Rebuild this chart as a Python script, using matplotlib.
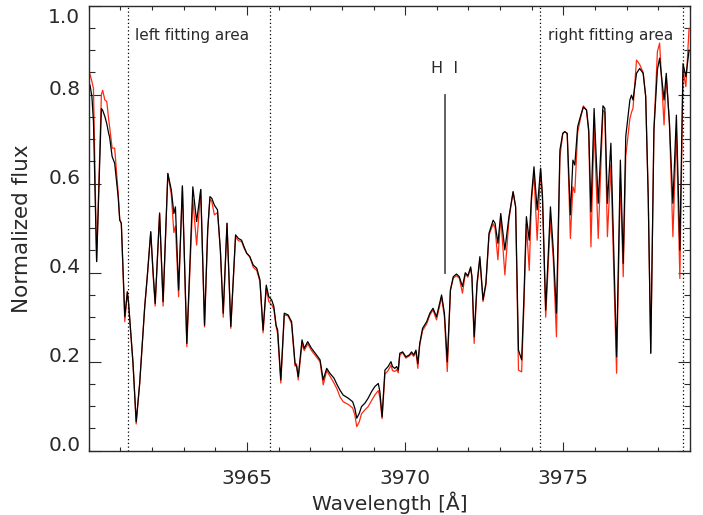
import matplotlib
matplotlib.use("Agg")
import matplotlib.pyplot as plt
from matplotlib.ticker import FixedLocator, MultipleLocator
from matplotlib.transforms import ScaledTranslation

# wavelength grid [A], observed (black) and model (red) normalized flux
wave = [
    3960.00, 3960.04, 3960.10, 3960.15, 3960.25, 3960.40, 3960.44, 3960.51, 3960.57, 3960.63,
    3960.66, 3960.74, 3960.82, 3960.93, 3960.98, 3961.03, 3961.14, 3961.22, 3961.26, 3961.40,
    3961.50, 3961.61, 3961.77, 3961.85, 3961.96, 3962.03, 3962.10, 3962.24, 3962.35, 3962.50,
    3962.61, 3962.69, 3962.74, 3962.84, 3962.96, 3963.10, 3963.29, 3963.41, 3963.54, 3963.66,
    3963.76, 3963.83, 3963.89, 3963.97, 3964.07, 3964.16, 3964.25, 3964.37, 3964.49, 3964.64,
    3964.73, 3964.83, 3964.91, 3964.99, 3965.09, 3965.20, 3965.31, 3965.41, 3965.51, 3965.61,
    3965.69, 3965.78, 3965.85, 3965.92, 3965.97, 3966.07, 3966.18, 3966.30, 3966.41, 3966.52,
    3966.57, 3966.62, 3966.74, 3966.81, 3966.92, 3967.04, 3967.20, 3967.31, 3967.41, 3967.52,
    3967.62, 3967.75, 3967.85, 3967.94, 3968.04, 3968.20, 3968.34, 3968.41, 3968.47, 3968.55,
    3968.62, 3968.73, 3968.83, 3968.94, 3969.04, 3969.15, 3969.20, 3969.27, 3969.36, 3969.46,
    3969.55, 3969.60, 3969.67, 3969.73, 3969.78, 3969.83, 3969.92, 3970.02, 3970.13, 3970.20,
    3970.27, 3970.34, 3970.40, 3970.46, 3970.55, 3970.68, 3970.78, 3970.88, 3970.99, 3971.15,
    3971.24, 3971.33, 3971.43, 3971.52, 3971.62, 3971.71, 3971.81, 3971.90, 3971.98, 3972.07,
    3972.11, 3972.18, 3972.27, 3972.36, 3972.46, 3972.55, 3972.65, 3972.78, 3972.84, 3972.93,
    3973.02, 3973.15, 3973.28, 3973.41, 3973.49, 3973.58, 3973.68, 3973.75, 3973.83, 3973.92,
    3973.99, 3974.07, 3974.17, 3974.28, 3974.34, 3974.44, 3974.59, 3974.68, 3974.78, 3974.89,
    3974.98, 3975.04, 3975.12, 3975.22, 3975.30, 3975.36, 3975.45, 3975.55, 3975.63, 3975.73,
    3975.80, 3975.87, 3975.97, 3976.10, 3976.25, 3976.31, 3976.39, 3976.50, 3976.68, 3976.80,
    3976.89, 3976.97, 3977.10, 3977.15, 3977.20, 3977.31, 3977.41, 3977.52, 3977.60, 3977.68,
    3977.76, 3977.86, 3977.97, 3978.04, 3978.18, 3978.25, 3978.35, 3978.46, 3978.57, 3978.68,
    3978.78, 3978.87, 3978.97,
]
flux_obs = [
    0.803, 0.822, 0.796, 0.740, 0.425, 0.769, 0.765, 0.751, 0.735, 0.713,
    0.705, 0.661, 0.646, 0.571, 0.518, 0.511, 0.301, 0.357, 0.331, 0.196,
    0.065, 0.151, 0.324, 0.391, 0.492, 0.406, 0.331, 0.533, 0.335, 0.623,
    0.586, 0.533, 0.548, 0.361, 0.595, 0.241, 0.593, 0.515, 0.587, 0.282,
    0.496, 0.571, 0.567, 0.552, 0.541, 0.451, 0.309, 0.511, 0.279, 0.485,
    0.477, 0.473, 0.458, 0.444, 0.436, 0.417, 0.410, 0.384, 0.271, 0.372,
    0.346, 0.339, 0.324, 0.282, 0.271, 0.159, 0.309, 0.305, 0.290, 0.196,
    0.189, 0.166, 0.249, 0.230, 0.245, 0.230, 0.215, 0.204, 0.159, 0.185,
    0.174, 0.163, 0.148, 0.136, 0.125, 0.118, 0.110, 0.095, 0.073, 0.084,
    0.099, 0.107, 0.118, 0.133, 0.144, 0.151, 0.133, 0.076, 0.181, 0.189,
    0.200, 0.189, 0.185, 0.189, 0.181, 0.219, 0.222, 0.211, 0.215, 0.222,
    0.215, 0.226, 0.196, 0.241, 0.275, 0.290, 0.309, 0.320, 0.301, 0.350,
    0.309, 0.200, 0.361, 0.391, 0.397, 0.391, 0.369, 0.400, 0.393, 0.413,
    0.391, 0.256, 0.376, 0.436, 0.339, 0.376, 0.489, 0.518, 0.511, 0.466,
    0.533, 0.451, 0.526, 0.582, 0.548, 0.226, 0.204, 0.339, 0.526, 0.473,
    0.571, 0.638, 0.541, 0.635, 0.571, 0.316, 0.548, 0.451, 0.309, 0.676,
    0.713, 0.717, 0.713, 0.530, 0.653, 0.642, 0.728, 0.754, 0.772, 0.766,
    0.721, 0.537, 0.769, 0.556, 0.775, 0.769, 0.556, 0.691, 0.211, 0.653,
    0.421, 0.706, 0.788, 0.799, 0.788, 0.848, 0.859, 0.848, 0.796, 0.571,
    0.219, 0.721, 0.856, 0.882, 0.788, 0.848, 0.736, 0.556, 0.754, 0.451,
    0.870, 0.840, 0.900,
]
flux_model = [
    0.849, 0.846, 0.830, 0.814, 0.425, 0.800, 0.810, 0.788, 0.785, 0.745,
    0.728, 0.680, 0.680, 0.580, 0.520, 0.511, 0.290, 0.357, 0.331, 0.196,
    0.060, 0.151, 0.324, 0.391, 0.492, 0.400, 0.325, 0.535, 0.325, 0.623,
    0.575, 0.490, 0.505, 0.346, 0.595, 0.234, 0.565, 0.462, 0.587, 0.278,
    0.496, 0.565, 0.560, 0.530, 0.535, 0.451, 0.300, 0.511, 0.275, 0.480,
    0.472, 0.470, 0.455, 0.444, 0.436, 0.412, 0.405, 0.380, 0.265, 0.365,
    0.335, 0.328, 0.318, 0.280, 0.262, 0.152, 0.305, 0.303, 0.285, 0.190,
    0.195, 0.159, 0.240, 0.225, 0.240, 0.225, 0.210, 0.200, 0.148, 0.180,
    0.168, 0.152, 0.138, 0.121, 0.110, 0.104, 0.096, 0.080, 0.054, 0.065,
    0.083, 0.092, 0.099, 0.113, 0.125, 0.135, 0.120, 0.072, 0.172, 0.180,
    0.192, 0.180, 0.178, 0.182, 0.175, 0.215, 0.220, 0.208, 0.213, 0.218,
    0.212, 0.222, 0.185, 0.238, 0.270, 0.285, 0.305, 0.316, 0.294, 0.345,
    0.300, 0.178, 0.361, 0.388, 0.393, 0.388, 0.354, 0.398, 0.390, 0.410,
    0.388, 0.241, 0.370, 0.430, 0.335, 0.372, 0.485, 0.510, 0.500, 0.429,
    0.525, 0.395, 0.520, 0.582, 0.548, 0.181, 0.177, 0.320, 0.510, 0.405,
    0.560, 0.623, 0.473, 0.630, 0.560, 0.300, 0.520, 0.430, 0.256, 0.660,
    0.713, 0.717, 0.713, 0.477, 0.593, 0.580, 0.715, 0.750, 0.775, 0.765,
    0.715, 0.458, 0.732, 0.477, 0.765, 0.760, 0.481, 0.642, 0.174, 0.612,
    0.391, 0.661, 0.746, 0.760, 0.770, 0.878, 0.868, 0.850, 0.796, 0.571,
    0.219, 0.721, 0.897, 0.916, 0.732, 0.840, 0.736, 0.481, 0.717, 0.387,
    0.855, 0.818, 0.949,
]

# fitting-area borders and the H I line marker
fit_edges = [3961.23, 3965.73, 3974.25, 3978.78]
hi_wave = 3971.25
hi_range = [0.40, 0.80]
x_major = [3965, 3970, 3975]

plt.rcParams["font.family"] = ["DejaVu Sans"]
txt_col = "#2a2a2a"

fig = plt.figure(figsize=(7.03, 5.15), dpi=100)
ax = fig.add_axes([0.1262, 0.1249, 0.8553, 0.8640])

ax.plot(wave, flux_model, color="#ff2a10", lw=0.9)
ax.plot(wave, flux_obs, color="black", lw=0.9)

for xe in fit_edges:
    ax.axvline(xe, color="black", lw=0.9, ls=(0, (1, 2)))
ax.plot([hi_wave, hi_wave], hi_range, color="#555555", lw=1.3)

ax.text(3961.46, 0.934, "left fitting area", fontsize=11, va="center", color=txt_col)
ax.text(3974.52, 0.934, "right fitting area", fontsize=11, va="center", color=txt_col)
ax.text(hi_wave, 0.86, "H  I", fontsize=11.5, ha="center", va="center", color=txt_col)

ax.set_xlim(3960, 3979)
ax.set_ylim(0, 1.0)
ax.xaxis.set_major_locator(FixedLocator(x_major))
ax.xaxis.set_minor_locator(MultipleLocator(1))
ax.yaxis.set_major_locator(MultipleLocator(0.2))
ax.yaxis.set_minor_locator(MultipleLocator(0.05))
ax.yaxis.set_major_formatter(plt.FormatStrFormatter("%.1f"))

ax.tick_params(axis="both", which="both", direction="in", top=True, right=True,
               width=0.8, colors=txt_col, labelsize=14.5)
ax.tick_params(axis="x", which="major", length=6.5, pad=13)
ax.tick_params(axis="x", which="minor", length=3.2)
ax.tick_params(axis="y", which="major", length=8.6, pad=6)
ax.tick_params(axis="y", which="minor", length=4.3)
for sp in ax.spines.values():
    sp.set_linewidth(1.0)
    sp.set_color(txt_col)

ax.set_xlabel("Wavelength [Å]", fontsize=14.5, labelpad=3, color=txt_col)
ax.set_ylabel("Normalized flux", fontsize=15.5, labelpad=12, color=txt_col)

# IDL-style y labels sit a little above their ticks, the top one below
fig.canvas.draw()
for lbl in ax.get_yticklabels():
    dy = -7 if lbl.get_text() == "1.0" else 5
    lbl.set_transform(lbl.get_transform() + ScaledTranslation(0, dy / 72, fig.dpi_scale_trans))

fig.savefig("out.png", dpi=100)
